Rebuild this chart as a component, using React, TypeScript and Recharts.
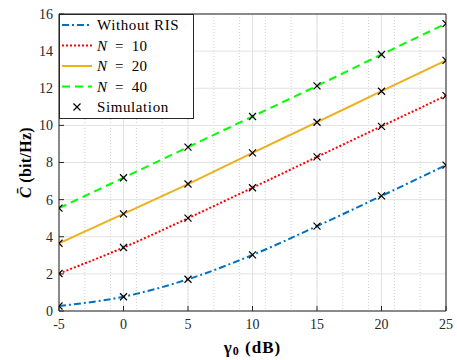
import React from 'react';
import { ComposedChart, Line, Scatter, XAxis, YAxis, CartesianGrid, Legend, Label } from 'recharts';

const gammaDb = [-5, 0, 5, 10, 15, 20, 25];
const withoutRIS = [0.27, 0.77, 1.71, 3.02, 4.57, 6.2, 7.86];
const n10 = [2.02, 3.42, 5.0, 6.64, 8.3, 9.95, 11.6];
const n20 = [3.65, 5.23, 6.84, 8.52, 10.17, 11.84, 13.5];
const n40 = [5.54, 7.18, 8.83, 10.48, 12.13, 13.82, 15.48];

const xTicks = [-5, 0, 5, 10, 15, 20, 25];
const yTicks = [0, 2, 4, 6, 8, 10, 12, 14, 16];
const xMinorTicks = Array.from({ length: 31 }, (_, i) => -5 + i);
const yMinorTicks = Array.from({ length: 33 }, (_, i) => i * 0.5);

const seriesNames = ['Without RIS', 'N = 10', 'N = 20', 'N = 40', 'Simulation'];

const data = gammaDb.map((g, i) => ({ g, w: withoutRIS[i], n10: n10[i], n20: n20[i], n40: n40[i] }));

const FONT = 'Liberation Serif';
const AXIS = '#262626';

const styles = [
  { key: 'w', color: '#0072BD', dash: '7 3 2 3' },
  { key: 'n10', color: '#FF0000', dash: '2 2' },
  { key: 'n20', color: '#EDB120', dash: undefined as string | undefined },
  { key: 'n40', color: '#00FF00', dash: '8 5' },
];

const XMark = (props: any) => {
  const { cx, cy } = props;
  if (cx == null || cy == null) return null;
  const s = 3.5;
  return (
    <path d={`M${cx - s},${cy - s}L${cx + s},${cy + s}M${cx - s},${cy + s}L${cx + s},${cy - s}`} stroke="#000" strokeWidth={1.2} fill="none" />
  );
};

const LegendBox = () => {
  const rowY = [11, 31.5, 52, 72.5, 93];
  return (
    <svg width={135} height={105} style={{ display: 'block', fontFamily: FONT }}>
      <rect x={0.5} y={0.5} width={134} height={104} fill="#fff" stroke={AXIS} strokeWidth={1} />
      {styles.map((s, i) => (
        <line key={s.key} x1={3} x2={33} y1={rowY[i]} y2={rowY[i]} stroke={s.color} strokeWidth={2} strokeDasharray={s.dash} />
      ))}
      <XMark cx={18} cy={rowY[4]} />
      {seriesNames.map((n, i) => {
        const isN = n.startsWith('N');
        return (
          <text key={n} x={38} y={rowY[i]} dominantBaseline="central" style={{ fontFamily: FONT, fontSize: 15, letterSpacing: isN ? 0.3 : 0.6 }} fill="#000">
            {isN ? (
              <>
                <tspan fontStyle="italic">N</tspan>
                <tspan>{'\u2002=\u2002' + n.slice(4)}</tspan>
              </>
            ) : n}
          </text>
        );
      })}
    </svg>
  );
};

const YLabel = (props: any) => {
  const vb = props.viewBox || { y: 14, height: 297 };
  const cx = 25;
  const cy = vb.y + vb.height / 2;
  return (
    <text x={cx} y={cy} transform={`rotate(-90 ${cx} ${cy})`} textAnchor="middle" dominantBaseline="central"
      style={{ fontFamily: FONT, fontSize: 16, fontWeight: 'bold', letterSpacing: 0.3 }} fill="#000">
      <tspan fontStyle="italic">{'C\u0304'}</tspan>
      <tspan>{' (bit/Hz)'}</tspan>
    </text>
  );
};

const XLabel = (props: any) => {
  const vb = props.viewBox || { x: 59, width: 387 };
  const cx = vb.x + vb.width / 2;
  const cy = 347;
  return (
    <text x={cx} y={cy} textAnchor="middle" dominantBaseline="central"
      style={{ fontFamily: FONT, fontSize: 17, fontWeight: 'bold', letterSpacing: 1 }} fill="#000">
      <tspan>γ</tspan>
      <tspan fontSize={12} dy={4}>0</tspan>
      <tspan dy={-4}>{' (dB)'}</tspan>
    </text>
  );
};

const tickStyle = { fontFamily: FONT, fontSize: 14, fill: AXIS };

export default function App() {
  return (
    <div style={{ position: 'absolute', left: 0, top: 0, width: 457, height: 360, background: '#fff', fontFamily: FONT }}>
      <ComposedChart width={457} height={360} data={data} margin={{ top: 13, right: 10, bottom: 48, left: 58 }}>
        <XAxis xAxisId="mx" dataKey="g" type="number" domain={[-5, 25]} ticks={xMinorTicks} hide />
        <YAxis yAxisId="my" type="number" domain={[0, 16]} ticks={yMinorTicks} hide />
        <CartesianGrid xAxisId="mx" yAxisId="my" stroke="#d2d2d2" strokeDasharray="1 2" />
        <CartesianGrid xAxisId="b" yAxisId="l" stroke="#e2e2e2" strokeWidth={1} />
        <XAxis xAxisId="b" dataKey="g" type="number" domain={[-5, 25]} ticks={xTicks} height={1} orientation="bottom"
          stroke={AXIS} tickSize={-5} tickMargin={13} tick={tickStyle} interval={0} allowDataOverflow>
          <Label content={<XLabel />} />
        </XAxis>
        <XAxis xAxisId="t" dataKey="g" type="number" domain={[-5, 25]} ticks={xTicks} height={1} orientation="top"
          stroke={AXIS} tickSize={-5} tick={false} interval={0} />
        <YAxis yAxisId="l" type="number" domain={[0, 16]} ticks={yTicks} width={1} orientation="left"
          stroke={AXIS} tickSize={-5} tickMargin={11} tick={tickStyle} interval={0}>
          <Label content={<YLabel />} />
        </YAxis>
        <YAxis yAxisId="r" type="number" domain={[0, 16]} ticks={yTicks} width={1} orientation="right"
          stroke={AXIS} tickSize={-5} tick={false} interval={0} />
        {styles.map((s) => (
          <Line key={s.key} xAxisId="b" yAxisId="l" type="monotone" dataKey={s.key} stroke={s.color} strokeWidth={2}
            strokeDasharray={s.dash} dot={false} activeDot={false} isAnimationActive={false} legendType="none" />
        ))}
        {styles.map((s) => (
          <Scatter key={'sim' + s.key} xAxisId="b" yAxisId="l" dataKey={s.key} shape={<XMark />} isAnimationActive={false} legendType="none" />
        ))}
        <Legend layout="vertical" verticalAlign="middle" align="center" content={<LegendBox />}
          wrapperStyle={{ position: 'absolute', left: 59, top: 14, width: 135, height: 105 }} />
      </ComposedChart>
    </div>
  );
}
